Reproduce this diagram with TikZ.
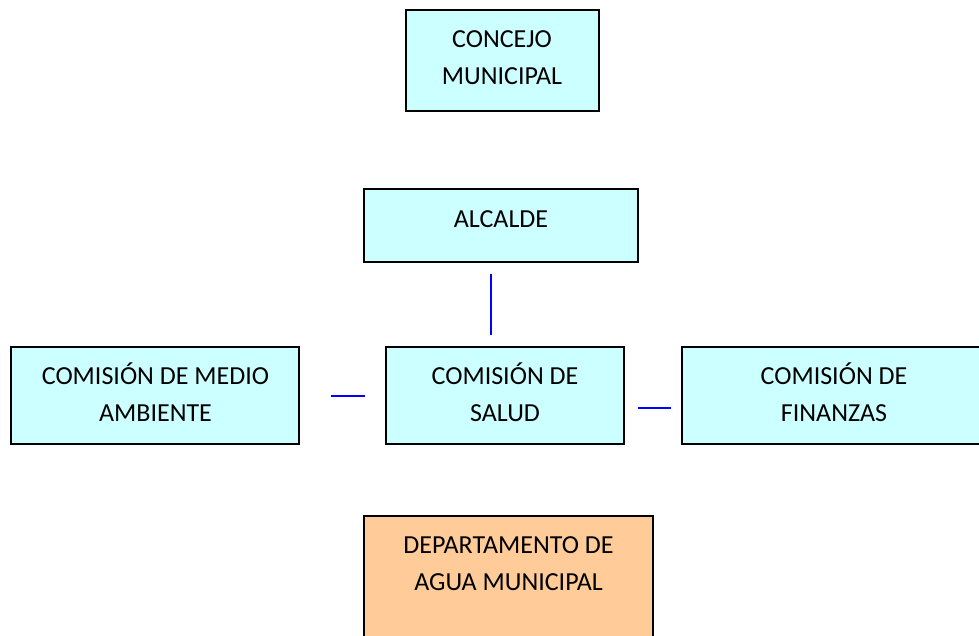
\documentclass[tikz,border=0pt]{standalone}
\usepackage{fontspec}
\setmainfont{Carlito}
\definecolor{boxcyan}{HTML}{CCFFFF}
\definecolor{boxorange}{HTML}{FFCC99}
\definecolor{linkblue}{HTML}{0000FF}
\begin{document}
\begin{tikzpicture}[x=1pt,y=-1pt,
  orgbox/.style={draw=black,line width=2pt,fill=boxcyan},
  deptbox/.style={draw=black,line width=2pt,fill=boxorange},
  label/.style={anchor=base,align=center,inner sep=0pt,font=\fontsize{26}{37}\selectfont},
  link/.style={draw=linkblue,line width=2.4pt}]
\useasboundingbox (0,0) rectangle (979,635);
\path[orgbox] (406,10) rectangle (599,111);
\node[label] (concejo) at (502,84) {CONCEJO\\MUNICIPAL};
\path[orgbox] (364,189) rectangle (638,262);
\node[label] (alcalde) at (501,227.5) {ALCALDE};
\path[orgbox] (386,347) rectangle (624,444);
\node[label] (salud) at (505,421) {COMISIÓN DE\\SALUD};
\path[orgbox] (11,347) rectangle (299,444);
\node[label] (medio) at (155.5,421) {COMISIÓN DE MEDIO\\AMBIENTE};
\path[orgbox] (682,347) rectangle (990,444);
\node[label] (finanzas) at (834,421) {COMISIÓN DE\\FINANZAS};
\path[deptbox] (364,516) rectangle (653,650);
\node[label] (depto) at (508.5,590.5) {DEPARTAMENTO DE\\AGUA MUNICIPAL};
\coordinate (v1) at (491,274);
\coordinate (v2) at (491,335);
\coordinate (l1) at (331,396);
\coordinate (l2) at (365,396);
\coordinate (r1) at (638,408);
\coordinate (r2) at (671,408);
\draw[link] (v1) -- (v2);
\draw[link] (l1) -- (l2);
\draw[link] (r1) -- (r2);
\end{tikzpicture}
\end{document}
